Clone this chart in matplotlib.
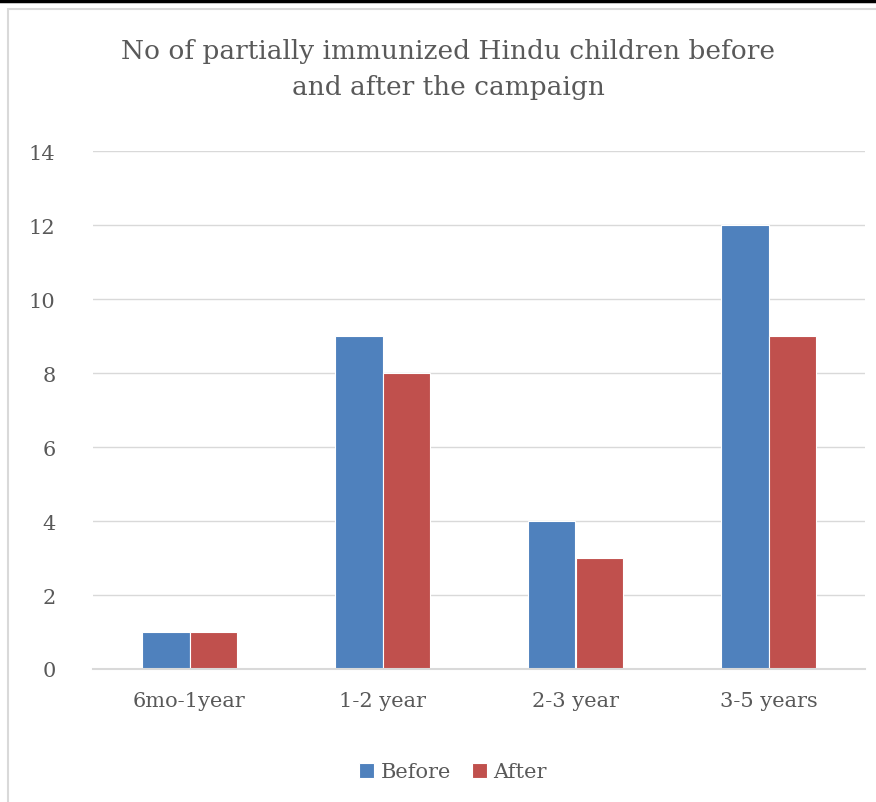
import matplotlib
matplotlib.use("Agg")
import matplotlib.pyplot as plt
import numpy as np
from matplotlib.patches import Rectangle
from matplotlib.lines import Line2D

categories = ["6mo-1year", "1-2 year", "2-3 year", "3-5 years"]
before = [1, 9, 4, 12]
after = [1, 8, 3, 9]
yticks = [0, 2, 4, 6, 8, 10, 12, 14]

BLUE = "#4F81BD"
RED = "#C0504D"
TEXT = "#595959"
GRID = "#D9D9D9"

plt.rcParams["font.family"] = ["DejaVu Serif"]

W, H = 876, 803
fig = plt.figure(figsize=(W / 100, H / 100), dpi=100)

# page rule at the top and the chart frame
fig.add_artist(Line2D([0, 1], [1 - 2 / H, 1 - 2 / H], transform=fig.transFigure,
                      color="black", lw=2.5))
fig.add_artist(Rectangle((8 / W, -0.05), 1.2, (H - 10) / H + 0.05,
                         transform=fig.transFigure, fill=False,
                         edgecolor=GRID, lw=1.5))

ax = fig.add_axes([93 / W, 1 - 670 / H, (865 - 93) / W, (670 - 152) / H])
x = np.arange(len(categories))
w = 0.245
ax.bar(x - w / 2, before, w, color=BLUE, edgecolor="white", lw=0.8, label="Before", zorder=3)
ax.bar(x + w / 2, after, w, color=RED, edgecolor="white", lw=0.8, label="After", zorder=3)

ax.set_xlim(-0.5, len(categories) - 0.5)
ax.set_ylim(0, 14)
ax.set_yticks(yticks)
ax.set_xticks(x)
ax.set_xticklabels(categories)
ax.yaxis.grid(True, color=GRID, lw=1.0, zorder=0)
ax.set_axisbelow(True)
for s in ["top", "right", "left"]:
    ax.spines[s].set_visible(False)
ax.spines["bottom"].set_color(GRID)
ax.spines["bottom"].set_linewidth(1.5)
ax.spines["bottom"].set_zorder(4)
ax.tick_params(axis="both", length=0, labelsize=15, colors=TEXT)
ax.tick_params(axis="y", pad=27)
ax.tick_params(axis="x", pad=16)

fig.text(448 / W, 1 - 69 / H,
         "No of partially immunized Hindu children before\nand after the campaign",
         ha="center", va="center", fontsize=19, color=TEXT, linespacing=1.55)

fig.legend(loc="center", bbox_to_anchor=(453 / W, 1 - 773 / H), ncol=2,
           frameon=False, fontsize=15, labelcolor=TEXT, handlelength=0.72,
           handleheight=0.72, handletextpad=0.3, columnspacing=1.0)

fig.savefig("out.png", dpi=100, facecolor="white")
